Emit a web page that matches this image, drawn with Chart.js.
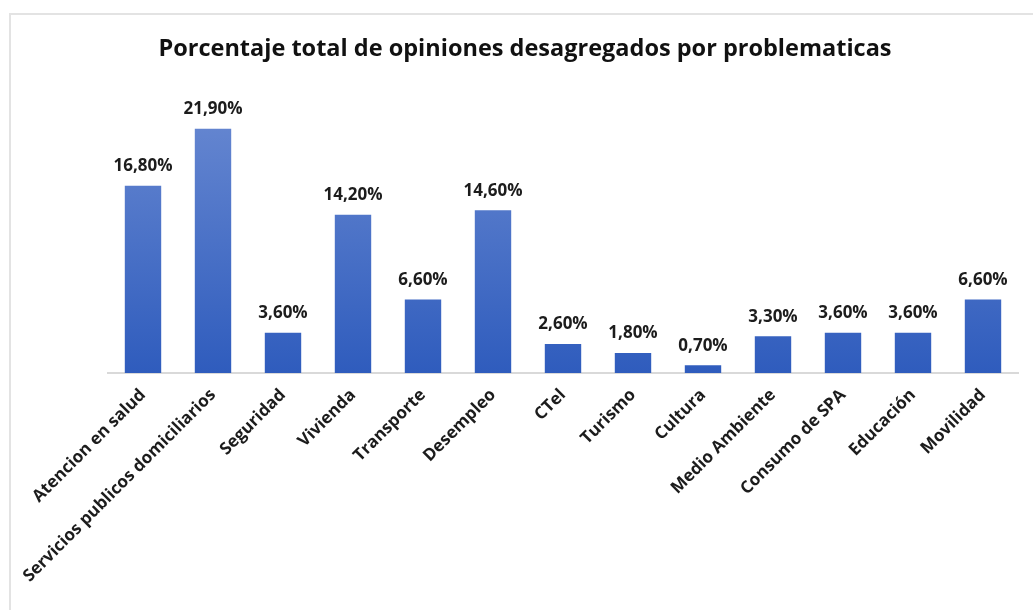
<!DOCTYPE html>
<html>
<head>
<meta charset="utf-8">
<script src="https://cdn.jsdelivr.net/npm/chart.js@4.4.1/dist/chart.umd.min.js"></script>
<style>
    html, body { margin: 0; padding: 0; background: #fff; overflow: hidden; }
    #frame { position: absolute; left: 9px; top: 13px; width: 1100px; height: 700px; border: 2px solid #e3e3e3; box-sizing: border-box; }
    #wrap { position: absolute; left: 0; top: 0; width: 1033px; height: 610px; }
</style>
</head>
<body>
<div id="frame"></div>
<div id="wrap"><canvas id="chart" width="1033" height="610"></canvas></div>
<script>
const categories = ['Atencion en salud', 'Servicios publicos domiciliarios', 'Seguridad', 'Vivienda', 'Transporte',
    'Desempleo', 'CTel', 'Turismo', 'Cultura', 'Medio Ambiente', 'Consumo de SPA', 'Educación', 'Movilidad'];
const percentages = [16.8, 21.9, 3.6, 14.2, 6.6, 14.6, 2.6, 1.8, 0.7, 3.3, 3.6, 3.6, 6.6];
const titleText = 'Porcentaje total de opiniones desagregados por problematicas';

const fontFamily = '"Open Sans", Lato, sans-serif';

// labels above each bar, e.g. 21,90%
const valueLabels = {
    id: 'valueLabels',
    afterDatasetsDraw(chart) {
        const ctx = chart.ctx;
        const meta = chart.getDatasetMeta(0);
        ctx.save();
        ctx.font = 'bold 17px ' + fontFamily;
        ctx.fillStyle = '#1c1c1c';
        ctx.textAlign = 'center';
        ctx.textBaseline = 'bottom';
        meta.data.forEach(function (bar, i) {
            let txt = percentages[i].toFixed(2).replace('.', ',') + '%';
            ctx.fillText(txt, bar.x, bar.y - 11);
        });
        ctx.restore();
    }
};

let ctx = document.getElementById('chart');
let chart = new Chart(ctx, {
    type: 'bar',
    data: {
        labels: categories,
        datasets: [{
            data: percentages,
            backgroundColor: function (context) {
                const area = context.chart.chartArea;
                if (!area) return '#4472c4';
                const g = context.chart.ctx.createLinearGradient(0, area.top, 0, area.bottom);
                g.addColorStop(0, '#6a8ad2');
                g.addColorStop(1, '#2f5cbd');
                return g;
            },
            borderWidth: 0,
            categoryPercentage: 1,
            barPercentage: 0.52
        }]
    },
    options: {
        responsive: false,
        animation: false,
        layout: {
            padding: { left: 32, right: 15, top: 0, bottom: 0 }
        },
        plugins: {
            legend: { display: false },
            tooltip: { enabled: false },
            title: {
                display: true,
                text: titleText,
                color: '#111',
                font: { family: fontFamily, size: 23.5, weight: 'bold' },
                padding: { top: 35, bottom: 31 }
            }
        },
        scales: {
            y: {
                min: 0,
                max: 25,
                grid: { display: false },
                border: { display: false },
                ticks: { display: false },
                afterFit: function (axis) {
                    axis.width = 76;
                }
            },
            x: {
                grid: { display: false },
                border: { display: true, color: '#d9d9d9', width: 2 },
                ticks: {
                    color: '#1c1c1c',
                    font: { family: fontFamily, size: 17, weight: 'bold' },
                    minRotation: 45,
                    maxRotation: 45,
                    padding: 4,
                    autoSkip: false
                },
                afterFit: function (axis) {
                    axis.height = 237;
                }
            }
        }
    },
    plugins: [valueLabels]
});
</script>
</body>
</html>
